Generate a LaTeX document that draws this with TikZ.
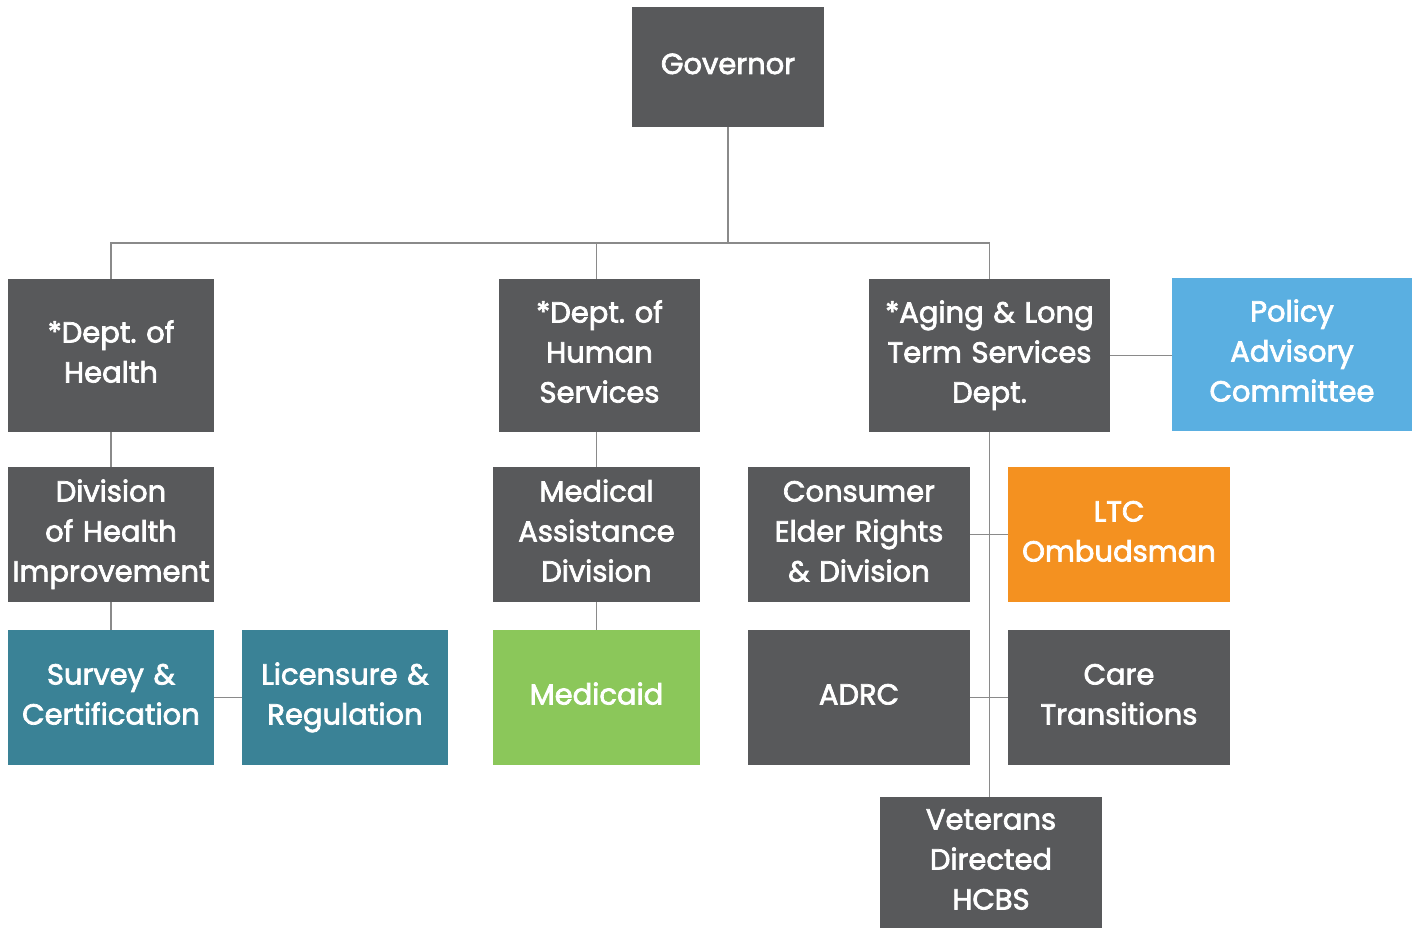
\documentclass[tikz,border=0pt]{standalone}
\usepackage{fontspec}
\setmainfont{Poppins}[FakeBold=2.5]
\definecolor{boxgray}{HTML}{58595B}
\definecolor{teal}{HTML}{3A8296}
\definecolor{skyb}{HTML}{5AAFE1}
\definecolor{leaf}{HTML}{8BC75A}
\definecolor{ora}{HTML}{F49120}
\definecolor{linegray}{HTML}{8A8A8A}
\frenchspacing
\begin{document}
\begin{tikzpicture}[x=1pt,y=-1pt,
  orgbox/.style={fill=boxgray,text=white,inner sep=0pt,align=center,
    font=\fontsize{29}{40}\selectfont,
    execute at begin node={\rule{0pt}{23pt}},
    execute at end node={\rule[-9pt]{0pt}{9pt}}},
  conn/.style={draw=linegray,line width=1.6pt}]
\useasboundingbox (0,0) rectangle (1418,928);
\newcommand{\bx}[7]{% name, x1,y1,x2,y2, colour, text
  \node[orgbox,fill=#6,minimum width=#4-#2,minimum height=#5-#3,text width=#4-#2] (#1) at ({(#2+#4)/2},{(#3+#5)/2}) {#7};}
\bx{gov}{632}{7}{824}{127}{boxgray}{Governor}
\bx{health}{8}{279}{214}{432}{boxgray}{*Dept. of\\Health}
\bx{human}{499}{279}{700}{432}{boxgray}{*Dept. of\\Human\\Services}
\bx{aging}{869}{279}{1110}{432}{boxgray}{*Aging \& Long\\Term Services\\Dept.}
\bx{policy}{1172}{278}{1412}{431}{skyb}{Policy\\Advisory\\Committee}
\bx{div}{8}{467}{214}{602}{boxgray}{Division\\of Health\\Improvement}
\bx{survey}{8}{630}{214}{765}{teal}{Survey \&\\Certification}
\bx{lic}{242}{630}{448}{765}{teal}{Licensure \&\\Regulation}
\bx{med}{493}{467}{700}{602}{boxgray}{Medical\\Assistance\\Division}
\bx{medicaid}{493}{630}{700}{765}{leaf}{Medicaid}
\bx{cons}{748}{467}{970}{602}{boxgray}{Consumer\\Elder Rights\\\& Division}
\bx{ltc}{1008}{467}{1230}{602}{ora}{LTC\\Ombudsman}
\bx{adrc}{748}{630}{970}{765}{boxgray}{ADRC}
\bx{care}{1008}{630}{1230}{765}{boxgray}{Care\\Transitions}
\bx{vet}{880}{797}{1102}{928}{boxgray}{Veterans\\Directed\\HCBS}
\coordinate (bus) at (728,243);
\draw[conn] (gov.south) -- (bus);
\draw[conn] (health.north) |- (bus) -| (aging.north);
\draw[conn] (med.north |- human.north) -- (med.north |- bus);
\draw[conn] (aging.east) -- (policy.west |- aging.east);
\draw[conn] (health.south) -- (div.north);
\draw[conn] (div.south) -- (survey.north);
\draw[conn] (survey.east) -- (lic.west);
\draw[conn] (med.north |- human.south) -- (med.north);
\draw[conn] (med.south) -- (medicaid.north);
\draw[conn] (aging.south) -- (aging.south |- vet.north);
\draw[conn] (cons.east) -- (ltc.west);
\draw[conn] (adrc.east) -- (care.west);
\end{tikzpicture}
\end{document}
